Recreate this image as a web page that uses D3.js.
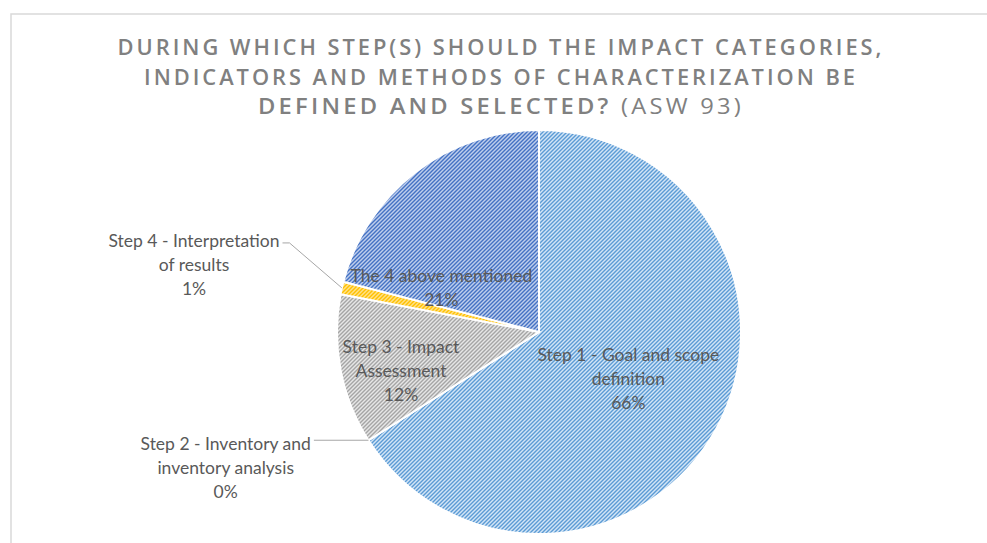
<!DOCTYPE html>
<html>
<head>
<meta charset="utf-8">
<script src="https://cdn.jsdelivr.net/npm/d3@7"></script>
<style>
  html, body { margin: 0; padding: 0; background: #fff; overflow: hidden; }
  svg { display: block; }
</style>
</head>
<body>
<div id="chart"></div>
<script>
// Chart data
const categories = [
    "Step 1 - Goal and scope definition",
    "Step 2 - Inventory and inventory analysis",
    "Step 3 - Impact Assessment",
    "Step 4 - Interpretation of results",
    "The 4 above mentioned"
];
const values = [66, 0, 12, 1, 21];
const labelLines = [
    ["Step 1 - Goal and scope", "definition"],
    ["Step 2 - Inventory and", "inventory analysis"],
    ["Step 3 - Impact", "Assessment"],
    ["Step 4 - Interpretation", "of results"],
    ["The 4 above mentioned"]
];
const titleLines = [
    "DURING WHICH STEP(S) SHOULD THE IMPACT CATEGORIES,",
    "INDICATORS AND METHODS OF CHARACTERIZATION BE",
    "DEFINED AND SELECTED?"
];
const titleSuffix = " (ASW 93)";

// Excel-like colours: stripe colour and light background
const stripeColors = ["#5B9BD5", "#ED7D31", "#A5A5A5", "#FFC000", "#4472C4"];
const backColors = ["#D3E5F6", "#F8CBAD", "#E6E6E6", "#FFE28A", "#BFCEEC"];

// label placement: radius factor and angle nudge (degrees)
const labelPlace = [
    { r: 0.5, da: -1, outside: false },
    { r: 1.69, da: 9, outside: true },
    { r: 0.71, da: -5, outside: false },
    { r: 1.74, da: -1.6, outside: true },
    { r: 0.53, da: -28, outside: false }
];

const W = 987, H = 543;
const cx = 539, cy = 332, radius = 202;

const svg = d3.select("#chart").append("svg")
    .attr("width", W)
    .attr("height", H);

// chart area border (continues past the window)
svg.append("rect")
    .attr("x", 11).attr("y", 14)
    .attr("width", 1000).attr("height", 600)
    .attr("fill", "#fff")
    .attr("stroke", "#D9D9D9")
    .attr("stroke-width", 1.5);

// stripe patterns
const defs = svg.append("defs");
stripeColors.forEach((c, i) => {
    const p = defs.append("pattern")
        .attr("id", "hatch" + i)
        .attr("patternUnits", "userSpaceOnUse")
        .attr("width", 4)
        .attr("height", 4);
    p.append("rect").attr("width", 4).attr("height", 4).attr("fill", backColors[i]);
    p.append("path")
        .attr("d", "M-1,1 l2,-2 M0,4 l4,-4 M3,5 l2,-2")
        .attr("stroke", c)
        .attr("stroke-width", 1.4);
});

// title
const titleG = svg.append("g")
    .attr("font-family", "'Open Sans', 'Noto Sans', sans-serif")
    .attr("font-size", "22px")
    .attr("fill", "#808080")
    .attr("text-anchor", "middle")
    .style("letter-spacing", "3px");
const titleWidths = [767, 714, 486];
titleLines.forEach((line, i) => {
    const last = i === titleLines.length - 1;
    const t = titleG.append("text")
        .attr("x", 501)
        .attr("y", 55 + i * 29.5)
        .attr("textLength", titleWidths[i])
        .attr("lengthAdjust", "spacingAndGlyphs");
    t.append("tspan").attr("font-weight", 600).text(line);
    if (last) {
        t.append("tspan").attr("font-weight", 400).text(titleSuffix);
    }
});

// pie
const pie = d3.pie().sort(null).value(d => d);
const arcs = pie(values);
const arc = d3.arc().innerRadius(0).outerRadius(radius);

const g = svg.append("g").attr("transform", `translate(${cx},${cy})`);

g.selectAll("path.slice")
    .data(arcs)
    .enter()
    .append("path")
    .attr("class", "slice")
    .attr("d", arc)
    .attr("fill", (d, i) => `url(#hatch${i})`)
    .attr("stroke", "#fff")
    .attr("stroke-width", 2);

// labels
const fmt = v => Math.round(v) + "%";
const total = d3.sum(values);
const lineH = 24;
const labelG = g.append("g")
    .attr("font-family", "Lato, 'Open Sans', sans-serif")
    .attr("font-size", "17.5px")
    .attr("fill", "#595959")
    .attr("text-anchor", "middle");

arcs.forEach((d, i) => {
    const pl = labelPlace[i];
    const mid = (d.startAngle + d.endAngle) / 2;
    const a = mid + pl.da * Math.PI / 180;
    const lx = Math.sin(a) * radius * pl.r;
    const ly = -Math.cos(a) * radius * pl.r;
    const lines = labelLines[i].concat([fmt(values[i] / total * 100)]);
    const top = ly - (lines.length - 1) * lineH / 2;
    const t = labelG.append("text");
    lines.forEach((ln, j) => {
        t.append("tspan")
            .attr("x", lx)
            .attr("y", top + j * lineH)
            .attr("dy", "0.35em")
            .text(ln);
    });

    if (pl.outside) {
        // leader line from first label line to slice edge
        const firstW = t.select("tspan").node().getComputedTextLength();
        const sx = lx + firstW / 2 + 3;
        const sy = top + 2;
        const ex = Math.sin(mid) * radius;
        const ey = -Math.cos(mid) * radius;
        const pts = Math.abs(ey - sy) > 8
            ? [[sx, sy], [sx + 7, sy], [ex, ey]]
            : [[sx, ey], [ex, ey]];
        g.append("path")
            .attr("d", d3.line()(pts))
            .attr("fill", "none")
            .attr("stroke", "#A6A6A6")
            .attr("stroke-width", 1);
    }
});
</script>
</body>
</html>
